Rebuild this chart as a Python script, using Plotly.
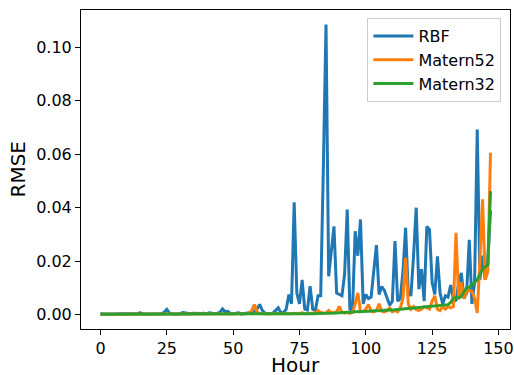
import plotly.graph_objects as go

hours = list(range(148))

rbf = [
0.0003,0.0002,0.0002,0.0002,0.0002,0.0002,0.0002,0.0002,0.0002,0.0002,
0.0002,0.0002,0.0002,0.0002,0.0004,0.0006,0.0002,0.0002,0.0002,0.0002,
0.0002,0.0002,0.0002,0.0003,0.0008,0.0019,0.0005,0.0002,0.0002,0.0002,
0.0003,0.0007,0.0005,0.0003,0.0003,0.0005,0.0004,0.0003,0.0004,0.0005,
0.0003,0.0006,0.0004,0.0003,0.0005,0.0008,0.0021,0.0010,0.0012,0.0003,
0.0003,0.0004,0.0006,0.0002,0.0003,0.0003,0.0006,0.0003,0.0010,0.0020,
0.0038,0.0015,0.0005,0.0003,0.0003,0.0005,0.0015,0.0025,0.0006,0.0008,
0.0020,0.0075,0.0040,0.0420,0.0080,0.0040,0.0130,0.0020,0.0017,0.0106,
0.0020,0.0015,0.0070,0.0070,0.0550,0.1086,0.0143,0.0240,0.0330,0.0080,
0.0075,0.0070,0.0150,0.0393,0.0020,0.0017,0.0312,0.0220,0.0356,0.0040,
0.0075,0.0060,0.0065,0.0160,0.0260,0.0075,0.0105,0.0090,0.0060,0.0035,
0.0050,0.0275,0.0050,0.0060,0.0160,0.0325,0.0080,0.0070,0.0220,0.0400,
0.0095,0.0170,0.0050,0.0330,0.0318,0.0120,0.0075,0.0218,0.0080,0.0040,
0.0070,0.0065,0.0110,0.0060,0.0050,0.0120,0.0156,0.0060,0.0080,0.0280,
0.0040,0.0120,0.0693,0.0130,0.0220,0.0130,0.0200,0.0390]

matern52 = [
0.0001,0.0001,0.0001,0.0001,0.0001,0.0001,0.0001,0.0001,0.0001,0.0001,
0.0001,0.0001,0.0001,0.0001,0.0001,0.0001,0.0001,0.0001,0.0001,0.0001,
0.0001,0.0001,0.0001,0.0001,0.0001,0.0001,0.0001,0.0001,0.0001,0.0001,
0.0001,0.0002,0.0001,0.0001,0.0001,0.0002,0.0001,0.0001,0.0002,0.0001,
0.0002,0.0001,0.0002,0.0002,0.0001,0.0002,0.0002,0.0002,0.0001,0.0002,
0.0002,0.0002,0.0002,0.0002,0.0002,0.0003,0.0005,0.0015,0.0037,0.0010,
0.0004,0.0003,0.0003,0.0002,0.0003,0.0003,0.0004,0.0003,0.0002,0.0003,
0.0003,0.0004,0.0003,0.0005,0.0003,0.0004,0.0006,0.0003,0.0004,0.0005,
0.0004,0.0006,0.0015,0.0008,0.0005,0.0006,0.0015,0.0006,0.0008,0.0010,
0.0030,0.0008,0.0005,0.0008,0.0004,0.0008,0.0040,0.0081,0.0010,0.0012,
0.0020,0.0037,0.0012,0.0010,0.0015,0.0040,0.0012,0.0010,0.0015,0.0025,
0.0010,0.0015,0.0010,0.0025,0.0060,0.0212,0.0040,0.0020,0.0030,0.0018,
0.0015,0.0020,0.0030,0.0025,0.0020,0.0050,0.0070,0.0020,0.0015,0.0030,
0.0020,0.0030,0.0025,0.0030,0.0306,0.0056,0.0120,0.0060,0.0085,0.0090,
0.0087,0.0060,0.0006,0.0200,0.0431,0.0130,0.0160,0.0606]

matern32 = [
0.0001,0.0001,0.0001,0.0001,0.0001,0.0001,0.0001,0.0001,0.0001,0.0001,
0.0001,0.0001,0.0001,0.0001,0.0001,0.0001,0.0001,0.0001,0.0001,0.0001,
0.0001,0.0001,0.0001,0.0001,0.0001,0.0001,0.0001,0.0001,0.0001,0.0001,
0.0001,0.0001,0.0001,0.0001,0.0001,0.0001,0.0001,0.0001,0.0001,0.0001,
0.0001,0.0001,0.0001,0.0001,0.0001,0.0001,0.0001,0.0001,0.0001,0.0001,
0.0001,0.0001,0.0001,0.0001,0.0001,0.0001,0.0001,0.0001,0.0001,0.0001,
0.0001,0.0001,0.0001,0.0001,0.0001,0.0001,0.0001,0.0001,0.0001,0.0002,
0.0002,0.0002,0.0002,0.0002,0.0002,0.0002,0.0002,0.0003,0.0003,0.0003,
0.0003,0.0003,0.0004,0.0004,0.0004,0.0005,0.0005,0.0005,0.0006,0.0006,
0.0007,0.0007,0.0008,0.0008,0.0009,0.0009,0.0010,0.0010,0.0011,0.0011,
0.0012,0.0012,0.0013,0.0013,0.0014,0.0014,0.0015,0.0016,0.0016,0.0017,
0.0018,0.0018,0.0019,0.0020,0.0020,0.0021,0.0022,0.0023,0.0024,0.0024,
0.0025,0.0026,0.0027,0.0028,0.0029,0.0030,0.0031,0.0032,0.0033,0.0034,
0.0035,0.0037,0.0045,0.0062,0.0062,0.0063,0.0068,0.0085,0.0100,0.0102,
0.0110,0.0120,0.0130,0.0150,0.0170,0.0178,0.0187,0.0462]

series = [("RBF", rbf, "#1f77b4"), ("Matern52", matern52, "#ff7f0e"), ("Matern32", matern32, "#2ca02c")]

fig = go.Figure()
for name, vals, color in series:
    fig.add_trace(go.Scatter(x=hours, y=vals, mode="lines", name=name,
                             line=dict(color=color, width=3)))

font = "DejaVu Sans, Liberation Sans, sans-serif"
fig.update_layout(
    width=514, height=375,
    margin=dict(l=81, r=4, t=10, b=46),
    plot_bgcolor="white", paper_bgcolor="white",
    font=dict(family=font, size=16, color="black"),
    showlegend=True,
    legend=dict(x=0.98, y=0.975, xanchor="right", yanchor="top",
                bgcolor="rgba(255,255,255,0.8)", bordercolor="#cccccc", borderwidth=1,
                font=dict(size=16), itemwidth=40, tracegroupgap=0),
    xaxis=dict(range=[-7.35, 154.35], tickvals=[0, 25, 50, 75, 100, 125, 150],
               showgrid=False, zeroline=False, showline=True, linecolor="black", linewidth=1,
               mirror=True, ticks="outside", ticklen=5, tickcolor="black",
               automargin=False, tickfont=dict(size=16)),
    yaxis=dict(range=[-0.00543, 0.11403], tickvals=[0, 0.02, 0.04, 0.06, 0.08, 0.10],
               tickformat=".2f",
               showgrid=False, zeroline=False, showline=True, linecolor="black", linewidth=1,
               mirror=True, ticks="outside", ticklen=5, tickcolor="black",
               automargin=False, tickfont=dict(size=16)),
    annotations=[
        dict(text="Hour", xref="paper", yref="paper", x=0.5, y=0, xanchor="center",
             yanchor="middle", yshift=-36, showarrow=False, borderpad=0, font=dict(size=20)),
        dict(text="RMSE", xref="paper", yref="paper", x=0, y=0.5, xanchor="center",
             yanchor="middle", xshift=-64, textangle=-90, showarrow=False, borderpad=0,
             font=dict(size=20)),
    ],
)

fig.write_html("out.html")
